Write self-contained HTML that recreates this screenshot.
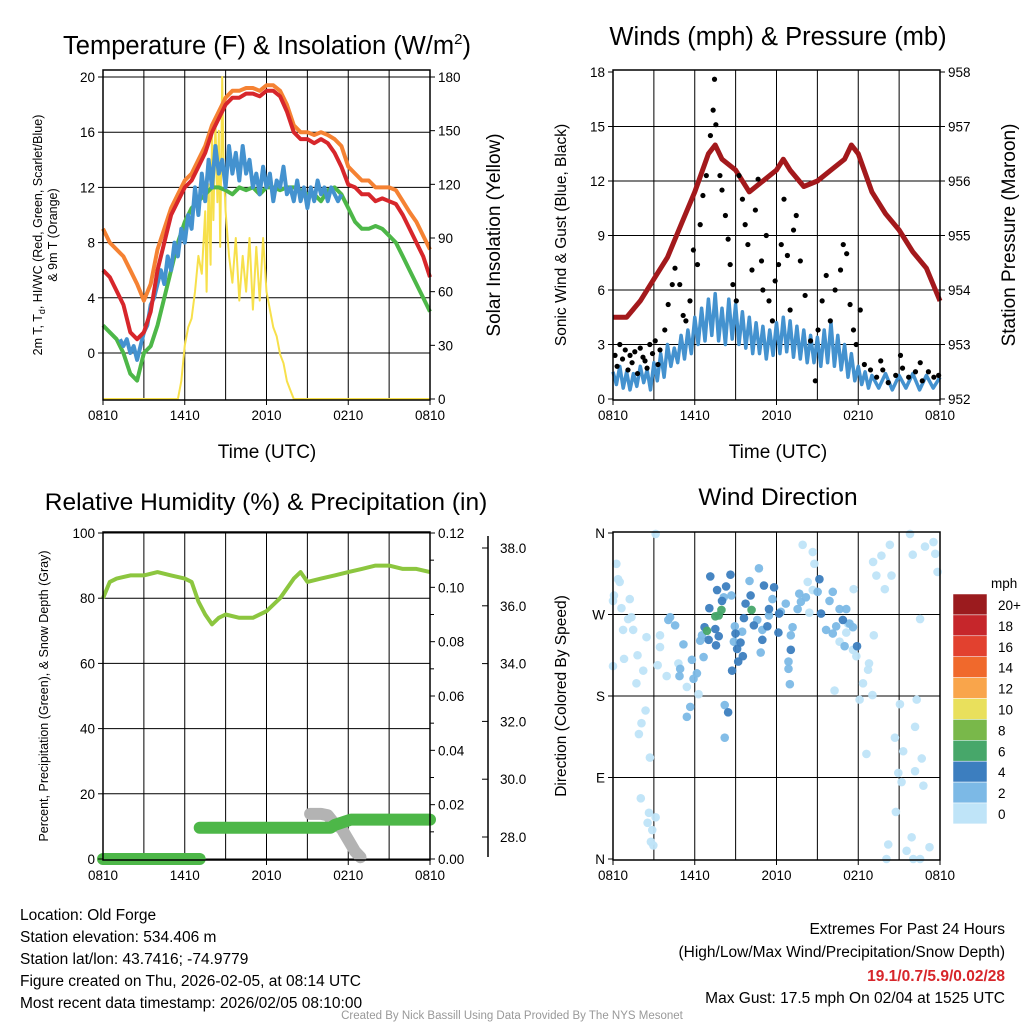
<!DOCTYPE html>
<html><head><meta charset="utf-8"><style>
html,body{margin:0;padding:0;background:#fff}
svg{display:block;font-family:"Liberation Sans",Arial,sans-serif}
</style></head><body>
<svg id="s" width="1024" height="1024" viewBox="0 0 1024 1024" xmlns="http://www.w3.org/2000/svg">
<g id="g"></g>
<g font-size="15.5" fill="#000">
<text x="20" y="920">Location: Old Forge</text>
<text x="20" y="942">Station elevation: 534.406 m</text>
<text x="20" y="964">Station lat/lon: 43.7416; -74.9779</text>
<text x="20" y="986">Figure created on Thu, 2026-02-05, at 08:14 UTC</text>
<text x="20" y="1008">Most recent data timestamp: 2026/02/05 08:10:00</text>
</g>
<g font-size="15.5" text-anchor="end">
<text x="1005" y="934">Extremes For Past 24 Hours</text>
<text x="1005" y="957">(High/Low/Max Wind/Precipitation/Snow Depth)</text>
<text x="1005" y="981" fill="#d7262b" font-weight="bold">19.1/0.7/5.9/0.02/28</text>
<text x="1005" y="1003">Max Gust: 17.5 mph On 02/04 at 1525 UTC</text>
</g>
<text x="512" y="1019" text-anchor="middle" font-size="11.5" fill="#999">Created By Nick Bassill Using Data Provided By The NYS Mesonet</text>
</svg>
<script>
// ---------- data ----------
const hours = [0,0.5,1,1.5,2,2.5,3,3.5,4,4.5,5,5.5,6,6.5,7,7.5,8,8.5,9,9.5,10,10.5,11,11.5,12,12.5,13,13.5,14,14.5,15,15.5,16,16.5,17,17.5,18,18.5,19,19.5,20,20.5,21,21.5,22,22.5,23,23.5,24];
const tempRed = [6,5.5,4.5,3.5,1.5,1,1.5,3,6,8,10,11,12,12.5,13.5,14.5,16,17,18,18.5,18.5,18.8,18.8,18.6,19,19,18.6,17.5,16,15.5,15.5,15.2,15.5,15.2,14.5,13.5,12.2,12,11.5,11.5,11,11.2,11,10.8,10,9,8,7,5.5];
const tempOrange = [9,8,7.5,7,6,5,3.8,5,7.5,9,10.5,11.5,12.5,13,14,15,16.5,17.5,18.5,19,19,19.2,19.2,19,19.4,19.4,19,18,16.5,16,16,15.8,16,15.8,15.5,15,13.5,13,12.5,12.5,12,12,12,11.8,11,10.2,9.5,8.5,7.5];
const dewGreen = [2,1.5,1,0,-1.5,-2,0,0.5,2,4,6,8,9.5,10.5,11,11.5,12,12,11.8,11.5,12,11.8,12,11.5,12,12,11.8,12,12,11.8,11.5,11.5,11,11.8,12,11.5,10.5,9.5,9,9,9.2,9,8.5,8,7,6,5,4,3];
const blueHours = [1.25,1.5,1.75,2,2.25,2.5,2.75,3,3.25,3.5,3.75,4,4.25,4.5,4.75,5,5.25,5.5,5.75,6,6.25,6.5,6.75,7,7.25,7.5,7.75,8,8.25,8.5,8.75,9,9.25,9.5,9.75,10,10.25,10.5,10.75,11,11.25,11.5,11.75,12,12.25,12.5,12.75,13,13.25,13.5,13.75,14,14.25,14.5,14.75,15,15.25,15.5,15.75,16,16.25,16.5,16.75,17,17.25,17.5];
const hiwcBlue = [1,0.5,1,0,0.5,-0.5,0.5,1.5,2,3.5,4,5,6,5,7,6,8,7,9,8,10,9,12,10,13,11,14,12,15,13,14,12,15,13,14.5,12.5,15,13,14,12,13,11.5,13.5,12,13,11,12.5,12,13.5,11.5,12,11,12.5,11,12,10.5,12,11,12.5,11.5,12,11,12,11.5,11,11.5];
const solarHours = [0,5.5,5.75,6,6.25,6.5,6.75,7,7.25,7.5,7.6,7.75,7.9,8,8.1,8.25,8.4,8.5,8.6,8.75,8.85,9,9.25,9.5,9.75,10,10.25,10.5,10.75,11,11.25,11.5,11.75,12,12.25,12.5,12.75,13,13.25,13.5,13.75,14,24];
const solarVals = [0,0,10,30,40,45,60,80,70,105,60,120,75,150,100,155,110,150,85,180,130,105,80,65,90,55,80,60,90,50,85,55,90,60,50,40,35,25,20,10,5,0,0];
const tempTicks = [0,4,8,12,16,20];
const solarTicks = [0,30,60,90,120,150,180];
const timeTickLabels = ["0810","1410","2010","0210","0810"];

const windHours = [0,0.25,0.5,0.75,1,1.25,1.5,1.75,2,2.25,2.5,2.75,3,3.25,3.5,3.75,4,4.25,4.5,4.75,5,5.25,5.5,5.75,6,6.25,6.5,6.75,7,7.25,7.5,7.75,8,8.25,8.5,8.75,9,9.25,9.5,9.75,10,10.25,10.5,10.75,11,11.25,11.5,11.75,12,12.25,12.5,12.75,13,13.25,13.5,13.75,14,14.25,14.5,14.75,15,15.25,15.5,15.75,16,16.25,16.5,16.75,17,17.25,17.5,17.75,18,18.25,18.5,18.75,19,19.5,20,20.5,21,21.5,22,22.5,23,23.5,24];
const windSpeed = [1.5,0.8,1.8,0.6,1.5,0.5,1.4,0.7,1.8,0.9,1.6,0.5,2,1,2.5,1.2,3,1.8,2.8,2,3.5,2.2,3.8,2.5,4.5,3,5,3.2,5.5,3.5,5.8,3.2,5,3,5.5,3.3,5.2,3,4.8,2.8,4.5,2.5,4.2,2.5,4,2.2,3.8,2.4,4.2,2.5,4.5,2.6,4.3,2.3,4,2.2,3.8,2,3.5,2,3.4,1.8,3.8,2,4.2,1.8,3.5,1.6,3,1.2,2.5,1,1.8,0.8,1.5,0.6,1.3,0.6,1.4,0.5,1.3,0.6,1.4,0.5,1.3,0.6,1.2];
const gustHours = [0.15,0.5,0.9,1.25,1.6,2.0,2.35,2.7,3.1,3.45,3.8,4.05,4.35,4.55,4.9,5.15,5.35,5.65,5.9,6.2,6.4,6.6,6.85,7.15,7.35,7.45,7.55,7.85,8.0,8.25,8.45,8.6,8.8,9.05,9.25,9.5,9.7,9.9,10.2,10.45,10.65,10.9,11.0,11.25,11.45,11.7,11.9,12.15,12.35,12.55,12.8,13.0,13.25,13.45,13.75,14.1,14.5,14.85,15.05,15.35,15.65,15.95,16.3,16.7,16.9,17.15,17.4,17.65,17.85,18.15,18.45,18.9,19.35,19.8,20.2,20.75,21.25,21.7,22.2,22.7,23.15,23.55,23.9,21.1,19.65,22.55,0.3,0.7,1.1,1.4,1.8,2.2,2.5,2.9,3.3];
const gustVals = [2.4,3.0,2.7,2.4,2.6,2.8,2.1,3.0,3.2,2.7,3.8,5.2,6.3,7.2,6.3,4.6,4.3,5.4,8.2,7.4,9.6,11.2,12.3,14.5,15.9,17.6,15.1,12.3,11.5,10.1,8.8,7.4,6.3,5.4,12.3,11.0,9.6,8.5,7.1,10.4,12.1,7.6,6.0,9.0,5.4,4.3,6.5,7.4,8.5,11.0,7.9,4.9,9.3,10.1,7.6,5.7,3.2,1.0,3.8,5.4,6.8,4.3,6.0,7.1,8.5,8.0,5.2,3.8,3.0,4.9,1.9,1.6,1.2,1.6,0.9,1.3,1.7,1.2,1.5,1.0,1.5,1.2,1.3,2.4,2.1,2.0,1.8,2.2,1.6,2.0,1.4,2.3,1.7,2.5,1.9];
const presHours = [0,1,2,3,4,5,6,7,7.5,8,9,10,11,12,12.5,13,14,15,16,17,17.5,18,19,20,21,22,23,24];
const presVals = [953.5,953.5,953.8,954.2,954.6,955.2,955.8,956.5,956.66,956.4,956.2,955.8,956.0,956.2,956.4,956.2,955.9,956.0,956.2,956.4,956.66,956.5,955.8,955.4,955.1,954.7,954.4,953.8];
const windTicks = [0,3,6,9,12,15,18];
const presTicks = [952,953,954,955,956,957,958];

const rhHours = [0,0.5,1,2,3,4,5,6,6.5,7,7.5,8,8.5,9,10,11,12,13,14,14.5,15,16,17,18,19,20,21,22,23,24];
const rhVals = [80,85,86,87,87,88,87,86,85,79,75,72,74,75,74,74,76,80,86,88,85,86,87,88,89,90,90,89,89,88];
const precipHours = [0,7.1,7.1,16.7,17.0,18.2,24];
const precipVals = [0,0,0.0115,0.0115,0.0125,0.0145,0.0145];
const snowHours = [15.2,16,16.5,17,17.5,18,18.5,18.9];
const snowVals = [28.8,28.8,28.75,28.45,28.3,27.9,27.5,27.3];
const rhTicks = [0,20,40,60,80,100];
const precipTicks = ["0.00","0.02","0.04","0.06","0.08","0.10","0.12"];
const snowTicks = ["28.0","30.0","32.0","34.0","36.0","38.0"];

const dirHours = [0.25,0.37,0.49,0.07,0,0.62,1.23,1.35,1.11,1.48,0.74,2.46,3.45,3.45,1.8,0.81,0,2.22,1.72,3.28,3.94,4.8,5.42,6.28,2.39,2.09,1.9,2.71,2.04,2.64,3.13,2.54,2.88,2.78,2.96,3.13,13.92,14.66,14.78,14.29,14.66,14.41,16.26,17.66,18.35,18.1,19.04,19.14,19.09,19.7,20.32,20.44,19.95,19.33,21.8,22.0,22.9,23.52,23.65,23.82,22.54,21.06,22.29,22.17,20.69,21.3,22.66,18.6,20.94,22.17,21.18,22.78,20.76,20.2,21.92,23.23,21.55,20.07,22.04,22.54,17.86,18.79,18.72,17.61,16.63,17.24,17.12,
4.19,4.06,4.56,5.17,5.79,6.16,5.91,4.93,4.88,5.42,5.67,6.65,6.4,6.53,8.13,8.69,8.94,8.87,9.48,10.02,10.71,11.7,10.59,10.96,10.84,11.45,12.32,12.68,12.88,12.88,12.98,13.05,13.18,13.55,13.79,13.67,14.16,15.02,15.89,16.13,15.64,16.13,16.38,16.63,17.12,17.0,17.36,17.61,8.2,8.45,8.2,
7.14,7.64,8.0,8.3,8.62,7.07,6.72,7.51,7.76,7.02,7.56,8.99,9.11,9.36,9.53,9.19,8.74,9.61,9.73,10.1,11.08,10.34,11.33,11.45,11.82,12.14,12.19,13.05,15.15,15.27,16.87,17.91,10.96,
7.51,7.76,7.96,6.9,10.17];
const dirDegrees = [326,309,306,291,285,277,287,267,265,253,253,245,247,234,225,221,213,208,194,214,202,216,190,182,164,150,138,112,67,51,46,40,32,19,15,359,347,339,326,306,297,272,186,298,194,176,181,247,328,335,347,313,298,313,359,336,345,350,337,317,265,171,176,146,134,119,111,116,95,97,85,81,52,16,24,13,9,0,0,0,224,216,209,231,240,260,250,
267,264,258,237,220,205,199,210,202,157,168,223,241,247,289,291,257,240,251,307,321,287,264,253,228,269,273,282,218,210,193,247,256,276,284,293,289,295,285,295,253,249,257,276,276,235,260,256,170,162,134,
312,297,285,301,314,277,256,254,246,242,236,249,232,239,224,218,208,266,282,291,302,258,257,276,300,250,271,231,309,271,264,235,242,
268,269,275,252,275];
const dirSpeeds = [1,1,1,1,1,1,1,1,1,1,1,1,1,1,1,1,1,1,1,1,1,1,1,1,1,1,1,1,1,1,1,1,1,1,1,1,1,1,1,1,1,1,1,1,1,1,1,1,1,1,1,1,1,1,1,1,1,1,1,1,1,1,1,1,1,1,1,1,1,1,1,1,1,1,1,1,1,1,1,1,1,1,1,1,1,1,1,
3,3,3,3,3,3,3,3,3,3,3,3,3,3,3,3,3,3,3,3,3,3,3,3,3,3,3,3,3,3,3,3,3,3,3,3,3,3,3,3,3,3,3,3,3,3,3,3,3,5,3,
5,5,5,5,5,5,5,5,5,5,5,5,5,5,5,5,5,5,5,5,5,5,5,5,5,5,5,5,5,5,5,5,5,
7,7,7,7,7];
const dirTickLabels = ["N","E","S","W","N"];
const cbLabels = ["20+","18","16","14","12","10","8","6","4","2","0"];
const cbColors = ["#9b1b1e","#c6262b","#e2412f","#f0692c","#f9a54b","#e9e05c","#79b84a","#47a76a","#3c7ebf","#7cb9e6","#bfe4f8"];

// ---------- helpers ----------
const NS="http://www.w3.org/2000/svg";
const root=document.getElementById('g');
function mk(tag,attrs,parent,text){const e=document.createElementNS(NS,tag);for(const k in attrs)e.setAttribute(k,attrs[k]);if(text!==undefined)e.textContent=text;(parent||root).appendChild(e);return e;}
function lin(d0,d1,r0,r1){return v=>r0+(v-d0)*(r1-r0)/(d1-d0);}
function pathD(xs,ys,fx,fy){let d='';for(let i=0;i<Math.min(xs.length,ys.length);i++){d+=(i?'L':'M')+fx(xs[i]).toFixed(1)+' '+fy(ys[i]).toFixed(1);}return d;}

function panel(x0,y0,x1,y1,hLines,name){
  const g=mk('g',{});
  
  
  const fx=lin(0,24,x0,x1);
  for(let h=3;h<24;h+=3){const l=mk('line',{x1:fx(h),x2:fx(h),y1:y0,y2:y1,stroke:'#000','stroke-width':1},g);}
  hLines.forEach(y=>{const l=mk('line',{x1:x0,x2:x1,y1:y,y2:y,stroke:'#000','stroke-width':1},g);});
  timeTickLabels.forEach((t,i)=>{const tx=mk('text',{x:fx(i*6),y:y1+20,'text-anchor':'middle','font-size':13.5},g,t);
    mk('line',{x1:fx(i*6),x2:fx(i*6),y1:y1,y2:y1+5,stroke:'#000'},g);});
  return {g,fx};
}
function frame(x0,y0,x1,y1){const r=mk('rect',{x:x0,y:y0,width:x1-x0,height:y1-y0,fill:'none',stroke:'#000','stroke-width':1.5});}
function title(x,y,t,name,size){const e=mk('text',{x:x,y:y,'text-anchor':'middle','font-size':size||25.5});e.innerHTML=t;return e;}
function vlabel(x,y,t,name,size){const e=mk('text',{x:0,y:0,'text-anchor':'middle','font-size':size,transform:`translate(${x},${y}) rotate(-90)`},root,t);return e;}
function ytick(x,y,t,side,name){const e=mk('text',{x:side==='l'?x-8:x+8,y:y+5,'text-anchor':side==='l'?'end':'start','font-size':13.5},root,t);mk('line',{x1:x,x2:side==='l'?x-5:x+5,y1:y,y2:y,stroke:'#000'});}

// ---------- Panel 1: temperature ----------
{
  const X0=103,X1=430,Y0=70,Y1=400;
  const fy=lin(0,20,353,77), fs=lin(0,180,399,77);
  const {g,fx}=panel(X0,Y0,X1,Y1,tempTicks.map(fy),'temperature-chart');
  const ys=mk('path',{d:pathD(solarHours,solarVals,fx,fs),fill:'none',stroke:'#f7e04b','stroke-width':2,'stroke-linejoin':'round'},g);
  
  const o=mk('path',{d:pathD(hours,tempOrange,fx,fy),fill:'none',stroke:'#f58233','stroke-width':4,'stroke-linejoin':'round'},g);
  
  const gr=mk('path',{d:pathD(hours,dewGreen,fx,fy),fill:'none',stroke:'#4db748','stroke-width':4,'stroke-linejoin':'round'},g);
  
  const b=mk('path',{d:pathD(blueHours,hiwcBlue,fx,fy),fill:'none',stroke:'#4492cf','stroke-width':4,'stroke-linejoin':'round'},g);
  
  const r=mk('path',{d:pathD(hours,tempRed,fx,fy),fill:'none',stroke:'#d7262b','stroke-width':4,'stroke-linejoin':'round'},g);
  
  frame(X0,Y0,X1,Y1);
  tempTicks.forEach(v=>ytick(X0,fy(v),String(v),'l','temp-y-tick'));
  solarTicks.forEach(v=>ytick(X1,fs(v),String(v),'r','solar-y-tick'));
  title(267,54,'Temperature (F) &amp; Insolation (W/m<tspan dy="-10" font-size="15">2</tspan><tspan dy="10">)</tspan>','temperature-title');
  const xl=mk('text',{x:267,y:458,'text-anchor':'middle','font-size':19},root,'Time (UTC)');
  const yl=mk('text',{x:0,y:0,'text-anchor':'middle','font-size':12.5,transform:'translate(42,235) rotate(-90)'});
  yl.innerHTML='2m T, T<tspan font-size="9" dy="3">d</tspan><tspan dy="-3">, HI/WC (Red, Green, Scarlet/Blue)</tspan>';
  
  vlabel(57,235,'& 9m T (Orange)','temp-y-axis-title-2',12.5);
  vlabel(500,235,'Solar Insolation (Yellow)','solar-y-axis-title',19);
}

// ---------- Panel 2: winds ----------
{
  const X0=613,X1=940,Y0=70,Y1=400;
  const fy=lin(0,18,399,72), fp=lin(952,958,399,72);
  const {g,fx}=panel(X0,Y0,X1,Y1,windTicks.slice(1,6).map(fy),'winds-chart');
  const b=mk('path',{d:pathD(windHours,windSpeed,fx,fy),fill:'none',stroke:'#4492cf','stroke-width':3.5,'stroke-linejoin':'round'},g);
  
  const m=mk('path',{d:pathD(presHours,presVals,fx,fp),fill:'none',stroke:'#a3191c','stroke-width':5,'stroke-linejoin':'round'},g);
  
  for(let i=0;i<gustHours.length;i++){
    const c=mk('circle',{cx:fx(gustHours[i]),cy:fy(gustVals[i]),r:2.6,fill:'#000'},g);
    
    
  }
  frame(X0,Y0,X1,Y1);
  windTicks.forEach(v=>ytick(X0,fy(v),String(v),'l','wind-y-tick'));
  presTicks.forEach(v=>ytick(X1,fp(v),String(v),'r','pressure-y-tick'));
  title(778,45,'Winds (mph) &amp; Pressure (mb)','winds-title');
  const xl=mk('text',{x:778,y:458,'text-anchor':'middle','font-size':19},root,'Time (UTC)');
  vlabel(566,235,'Sonic Wind & Gust (Blue, Black)','wind-y-axis-title',15.5);
  vlabel(1015,235,'Station Pressure (Maroon)','pressure-y-axis-title',19);
}

// ---------- Panel 3: RH & precip ----------
{
  const X0=103,X1=430,Y0=532,Y1=860;
  const fy=lin(0,100,859,533), fpr=lin(0,0.12,859,533), fsn=lin(28,38,837,548);
  const {g,fx}=panel(X0,Y0,X1,Y1,rhTicks.map(fy),'humidity-chart');
  const sn=mk('path',{d:pathD(snowHours,snowVals,fx,fsn),fill:'none',stroke:'#b3b3b3','stroke-width':12,'stroke-linecap':'round','stroke-linejoin':'round'},g);
  
  let segs=[[0]];
  for(let i=1;i<precipHours.length;i++){ if(Math.abs(precipVals[i]-precipVals[i-1])>0.005) segs.push([i]); else segs[segs.length-1].push(i); }
  segs.forEach(sg=>{
    const p=mk('path',{d:pathD(sg.map(i=>precipHours[i]),sg.map(i=>precipVals[i]),fx,fpr),fill:'none',stroke:'#4db748','stroke-width':12,'stroke-linecap':'round','stroke-linejoin':'round'},g);
    
    
  });
  const rh=mk('path',{d:pathD(rhHours,rhVals,fx,fy),fill:'none',stroke:'#8cc63f','stroke-width':4,'stroke-linejoin':'round'},g);
  
  frame(X0,Y0,X1,Y1);
  rhTicks.forEach(v=>ytick(X0,fy(v),String(v),'l','rh-y-tick'));
  precipTicks.forEach(t=>ytick(X1,fpr(parseFloat(t)),t,'r','precip-y-tick'));
  for(let v=0.01;v<0.12;v+=0.02) mk('line',{x1:X1,x2:X1+4,y1:fpr(v),y2:fpr(v),stroke:'#000'});
  const SX=488;
  mk('line',{x1:SX,x2:SX,y1:536,y2:857,stroke:'#000','stroke-width':1.5});
  snowTicks.forEach(t=>{const y=fsn(parseFloat(t));mk('line',{x1:SX,x2:SX-6,y1:y,y2:y,stroke:'#000'});const e=mk('text',{x:SX+12,y:y+5,'font-size':13.5},root,t);});
  title(266,510,'Relative Humidity (%) &amp; Precipitation (in)','humidity-title',24.5);
  vlabel(48,696,'Percent, Precipitation (Green), & Snow Depth (Gray)','rh-y-axis-title',12.5);
}

// ---------- Panel 4: wind direction ----------
{
  const X0=613,X1=940,Y0=532,Y1=860;
  const fd=lin(0,360,859,533);
  const {g,fx}=panel(X0,Y0,X1,Y1,[90,180,270].map(fd),'wind-direction-chart');
  function colorFor(s){let i=Math.min(10,Math.floor(s/2));return cbColors[10-i];}
  for(let i=0;i<dirHours.length;i++){
    const c=mk('circle',{cx:fx(dirHours[i]),cy:fd(dirDegrees[i]),r:4.3,fill:colorFor(dirSpeeds[i]),'fill-opacity':0.95},g);
    
    
  }
  frame(X0,Y0,X1,Y1);
  dirTickLabels.forEach((t,i)=>ytick(X0,fd(i*90),t,'l','direction-y-tick'));
  title(778,505,'Wind Direction','wind-direction-title',24.5);
  vlabel(566,696,'Direction (Colored By Speed)','direction-y-axis-title',15.5);
  const cb=mk('g',{});
  
  const u=mk('text',{x:991,y:588,'font-size':13.5},cb,'mph');
  cbLabels.forEach((t,i)=>{
    const y=594+i*20.9;
    const r=mk('rect',{x:953,y:y,width:34,height:20.9,fill:cbColors[i],stroke:'#fff','stroke-width':0.5},cb);
    
    const tx=mk('text',{x:998,y:y+16,'font-size':13.5},cb,t);
    
  });
}
</script>
</body></html>
